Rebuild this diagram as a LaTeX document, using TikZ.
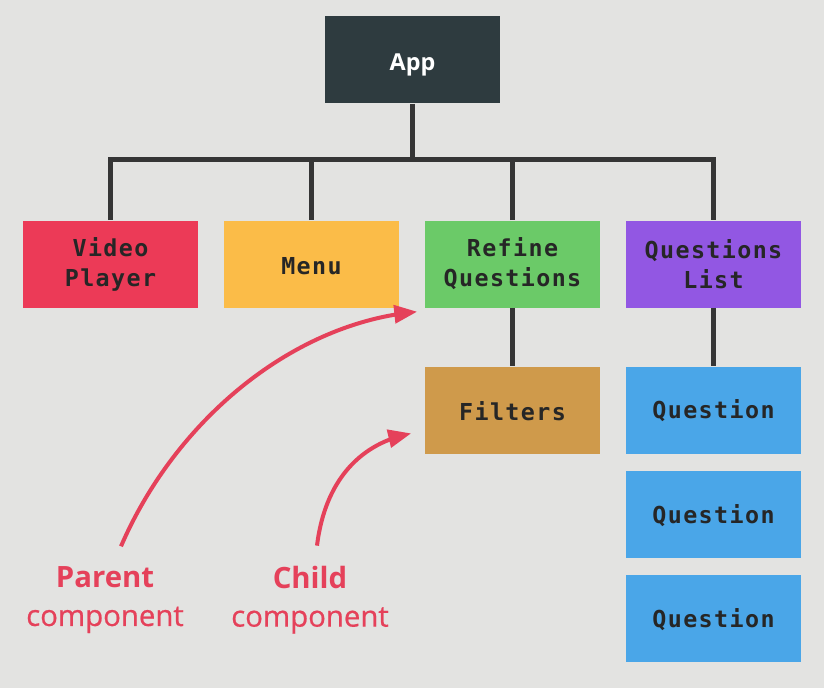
\documentclass[tikz,border=0pt]{standalone}
\usepackage{fontspec}
\setmainfont{Open Sans}
\newfontfamily\capfont[UprightFeatures={FakeBold=0.7}]{Open Sans}
\newfontfamily\codefont[LetterSpace=6.0]{DejaVu Sans Mono}
\usepackage{xcolor}
\usepackage{tikz}
\usetikzlibrary{arrows}
\definecolor{bgGray}{HTML}{E3E3E1}
\definecolor{appDark}{HTML}{2E3B3F}
\definecolor{playerRed}{HTML}{EC3A57}
\definecolor{menuYellow}{HTML}{FBBC48}
\definecolor{refineGreen}{HTML}{6BCA68}
\definecolor{listPurple}{HTML}{9257E3}
\definecolor{filterTan}{HTML}{CF9A4B}
\definecolor{questionBlue}{HTML}{4AA6E8}
\definecolor{labelRed}{HTML}{E5415A}
\definecolor{treeLine}{HTML}{353535}
\tikzset{
  comp/.style={rectangle,minimum width=131.25pt,minimum height=65.25pt,inner sep=0pt,
    align=center,text=black!85,font=\codefont\bfseries\fontsize{17.5}{22.5}\selectfont},
  oneline/.style={text height=15.8pt},
  tree/.style={line width=3.75pt,color=treeLine,line join=miter},
  pointer/.style={->,line width=3pt,color=labelRed},
  caption/.style={align=center,text=labelRed,font=\capfont\fontsize{22}{28.5}\selectfont}
}
\begin{document}
\begin{tikzpicture}[x=0.75pt,y=-0.75pt,>=triangle 45]
	\fill[bgGray] (0,0) rectangle (824,688);
	% components
	\node[comp,fill=appDark,text=white,text height=20pt,font=\bfseries\fontsize{17.5}{21}\selectfont] (app) at (412.5,60) {App};
	\node[comp,fill=playerRed] (player) at (110.5,264) {Video\\Player};
	\node[comp,oneline,fill=menuYellow] (menu) at (311.5,264) {Menu};
	\node[comp,fill=refineGreen] (refine) at (512.5,264) {Refine\\Questions};
	\node[comp,fill=listPurple] (list) at (713.5,264) {Questions\\List};
	\node[comp,oneline,fill=filterTan] (filters) at (512.5,410) {Filters};
	\foreach \y/\n in {410/q1,514.5/q2,618.5/q3}
	\node[comp,oneline,fill=questionBlue] (\n) at (713.5,\y) {Question};
	% tree lines
	\coordinate (bus) at (412.5,160);
	\draw[tree] (app.south) -- (bus);
	\draw[tree] (player.north) |- (bus) -| (list.north);
	\draw[tree] (menu.north) -- (menu.north |- bus);
	\draw[tree] (refine.north) -- (refine.north |- bus);
	\draw[tree] (refine.south) -- (filters.north);
	\draw[tree] (list.south) -- (q1.north);
	% captions
	\node[caption] (parent) at (105,600) {{\bfseries Parent}\\component};
	\node[caption] (child) at (310,600) {{\bfseries Child}\\component};
	\draw[pointer] ([shift={(16,-16)}]parent.north) .. controls +(54,-125) and +(-127,14) .. ([shift={(-8,4)}]refine.south west);
	\draw[pointer] ([shift={(7,-16)}]child.north) .. controls +(8,-65) and +(-51,12) .. ([shift={(-14,23.5)}]filters.west);
\end{tikzpicture}
\end{document}
